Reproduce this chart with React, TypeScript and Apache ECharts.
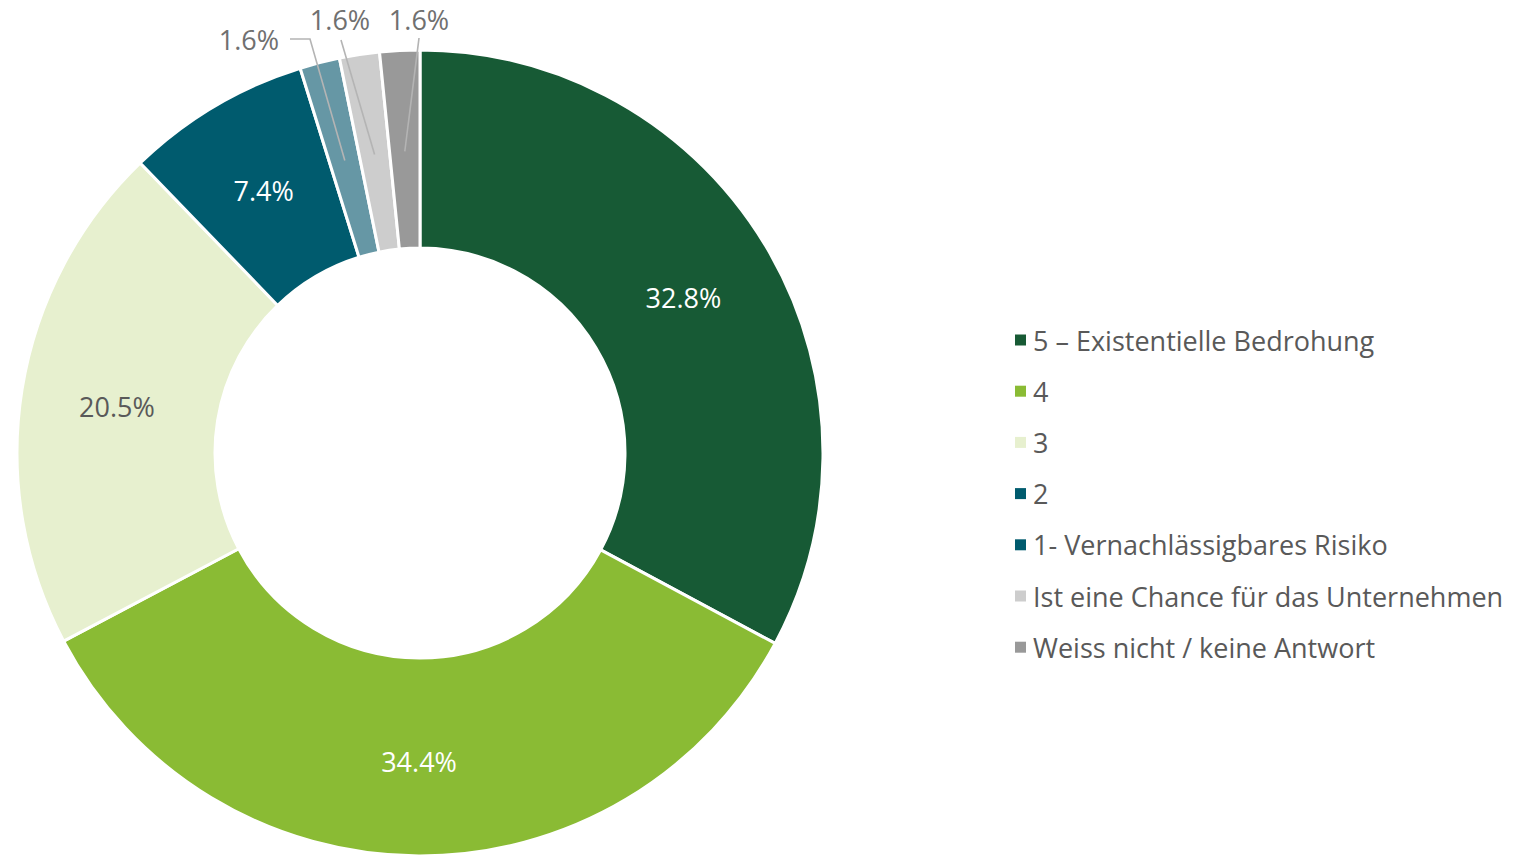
import React, { useEffect, useRef } from "react";
import * as echarts from "echarts";

const categories = [
  "5 – Existentielle Bedrohung",
  "4",
  "3",
  "2",
  "1- Vernachlässigbares Risiko",
  "Ist eine Chance für das Unternehmen",
  "Weiss nicht / keine Antwort",
];
const values = [32.8, 34.4, 20.5, 7.4, 1.6, 1.6, 1.6];
const colors = ["#175A35", "#8ABB34", "#E7F0CF", "#005B6E", "#6697A5", "#CDCDCD", "#999999"];
const legendColors = ["#175A35", "#8ABB34", "#E7F0CF", "#005B6E", "#005B6E", "#CDCDCD", "#999999"];
const insideLabelColors = ["#FFFFFF", "#FFFFFF", "#595959", "#FFFFFF", "", "", ""];

// layout constants
const CX = 420;
const CY = 453;
const R_IN = 205;
const R_OUT = 403;
const R_LINE = 302;

// outside label placements (label anchor + leader line elbow/end), for small slices
const outsideLabels: Record<number, { lx: number; ly: number; align: string; elbow: [number, number]; end: [number, number] }> = {
  4: { lx: 279, ly: 39, align: "right", elbow: [310, 39], end: [290, 39] },
  5: { lx: 340, ly: 19, align: "center", elbow: [341, 40], end: [341, 40] },
  6: { lx: 419, ly: 19, align: "center", elbow: [419, 38], end: [419, 38] },
};

function midPoint(i: number, r: number): [number, number] {
  const total = values.reduce((a, b) => a + b, 0);
  let cum = 0;
  for (let k = 0; k < i; k++) cum += values[k];
  const frac = (cum + values[i] / 2) / total;
  const t = frac * Math.PI * 2;
  return [CX + r * Math.sin(t), CY - r * Math.cos(t)];
}

export default function App() {
  const ref = useRef<HTMLDivElement>(null);
  useEffect(() => {
    if (!ref.current) return;
    const chart = echarts.init(ref.current, undefined, { renderer: "svg" });
    const font = "'Open Sans', 'Noto Sans', sans-serif";
    const data = categories.map((name, i) => {
      const small = i >= 4;
      return {
        name,
        value: values[i],
        itemStyle: { color: colors[i] },
        label: small
          ? { show: true, position: "outside", color: "#707070" }
          : { show: true, position: "inside", color: insideLabelColors[i] },
        labelLine: { show: false },
      };
    });
    const leaderLines = Object.keys(outsideLabels).map((k) => {
      const i = Number(k);
      const cfg = outsideLabels[i];
      const start = midPoint(i, R_LINE);
      return {
        type: "polyline",
        z: 100,
        silent: true,
        shape: { points: [start, cfg.elbow, cfg.end] },
        style: { stroke: "#B4B4B4", lineWidth: 1.6, fill: "none" },
      };
    });
    chart.setOption({
      animation: false,
      backgroundColor: "#ffffff",
      legend: {
        orient: "vertical",
        left: 1015,
        top: 321,
        padding: 0,
        itemWidth: 11,
        itemHeight: 11,
        itemGap: 13.2,
        icon: "rect",
        selectedMode: false,
        itemStyle: { borderWidth: 0 },
        textStyle: {
          fontFamily: font,
          fontSize: 27,
          color: "#595959",
          lineHeight: 27,
          padding: [11, 0, 0, 2],
        },
        data: categories.map((name, i) => ({ name, itemStyle: { color: legendColors[i], borderWidth: 0 } })),
      },
      graphic: leaderLines,
      series: [
        {
          type: "pie",
          center: [CX, CY],
          radius: [R_IN, R_OUT],
          startAngle: 90,
          clockwise: true,
          avoidLabelOverlap: false,
          itemStyle: { borderColor: "#ffffff", borderWidth: 3 },
          label: {
            fontFamily: font,
            fontSize: 27,
            formatter: (p: any) => p.value.toFixed(1) + "%",
          },
          emphasis: { disabled: true },
          labelLayout: (params: any) => {
            const cfg = outsideLabels[params.dataIndex];
            if (!cfg) return { dy: 2 };
            return {
              x: cfg.lx,
              y: cfg.ly,
              align: cfg.align,
              verticalAlign: "middle",
            };
          },
          data,
        },
      ],
    });
    return () => chart.dispose();
  }, []);
  return (
    <div
      ref={ref}
      style={{ position: "absolute", left: 0, top: 0, width: 1527, height: 856 }}
    />
  );
}
